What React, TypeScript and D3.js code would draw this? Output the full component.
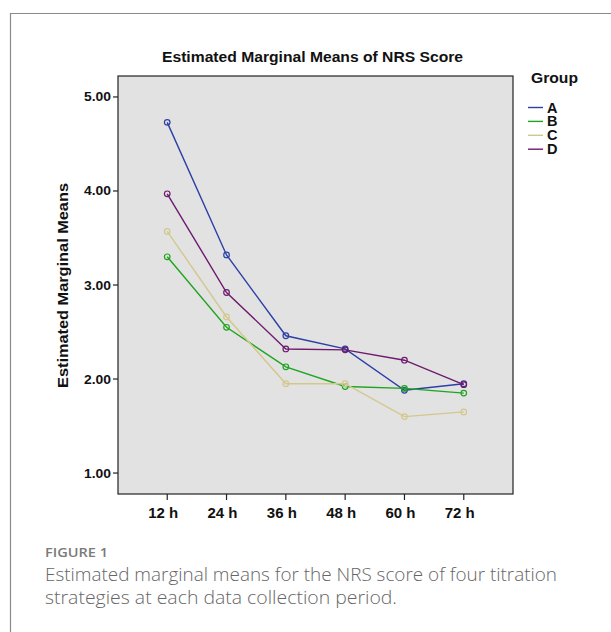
import React from "react";
import * as d3 from "d3";

const times = ["12 h", "24 h", "36 h", "48 h", "60 h", "72 h"];
const groups = ["A", "B", "C", "D"];
const colors = ["#2b3fa6", "#1ea51e", "#d2c88c", "#6e1a6e"];
const seriesA = [4.73, 3.32, 2.46, 2.32, 1.88, 1.95];
const seriesB = [3.3, 2.55, 2.13, 1.92, 1.9, 1.85];
const seriesC = [3.57, 2.66, 1.95, 1.95, 1.6, 1.65];
const seriesD = [3.97, 2.92, 2.32, 2.31, 2.2, 1.94];
const yTicks = [1, 2, 3, 4, 5];
const series = [seriesA, seriesB, seriesC, seriesD];

const W = 611;
const H = 632;
const plot = { left: 118, top: 76, right: 513, bottom: 494 };

export default function App() {
  const x = d3
    .scalePoint<string>()
    .domain(times)
    .range([plot.left, plot.right])
    .padding(0.83);
  const y = d3
    .scaleLinear()
    .domain([0.777, 5.223])
    .range([plot.bottom, plot.top]);
  const line = d3
    .line<number>()
    .x((_, i) => x(times[i]) as number)
    .y((d) => y(d));
  const font = "'Liberation Sans', Arial, sans-serif";
  return (
    <svg
      width={W}
      height={H}
      style={{ position: "absolute", left: 0, top: 0, background: "#fff" }}
    >
      <path d={`M10.5,${H} V13.5 H${W}`} fill="none" stroke="#8a8a8a" strokeWidth={1.2} />
      <text
        x={162}
        y={62}
        fontFamily={font}
        fontWeight="bold"
        fontSize={14.5}
        fill="#111"
        textLength={301}
        lengthAdjust="spacingAndGlyphs"
      >
        Estimated Marginal Means of NRS Score
      </text>
      <rect
        x={plot.left}
        y={plot.top}
        width={plot.right - plot.left}
        height={plot.bottom - plot.top}
        fill="#e2e2e2"
        stroke="#222"
        strokeWidth={1.2}
      />
      {yTicks.map((t) => (
        <g key={t}>
          <line x1={113} x2={plot.left} y1={y(t)} y2={y(t)} stroke="#222" strokeWidth={1.2} />
          <text
            x={111}
            y={y(t) + 4.5}
            textAnchor="end"
            fontFamily={font}
            fontWeight="bold"
            fontSize={13}
            fill="#111"
            textLength={27}
            lengthAdjust="spacingAndGlyphs"
          >
            {t.toFixed(2)}
          </text>
        </g>
      ))}
      {times.map((t) => (
        <g key={t}>
          <line
            x1={x(t)}
            x2={x(t)}
            y1={plot.bottom}
            y2={plot.bottom + 6}
            stroke="#222"
            strokeWidth={1.2}
          />
          <text
            x={(x(t) as number) - 4}
            y={plot.bottom + 24}
            textAnchor="middle"
            fontFamily={font}
            fontWeight="bold"
            fontSize={14}
            fill="#111"
            textLength={30}
            lengthAdjust="spacingAndGlyphs"
          >
            {t}
          </text>
        </g>
      ))}
      <text
        transform={`translate(68,${285.5}) rotate(-90)`}
        textAnchor="middle"
        fontFamily={font}
        fontWeight="bold"
        fontSize={14.5}
        fill="#111"
        textLength={205}
        lengthAdjust="spacingAndGlyphs"
      >
        Estimated Marginal Means
      </text>
      {series.map((s, gi) => (
        <g key={groups[gi]}>
          <path d={line(s) || ""} fill="none" stroke={colors[gi]} strokeWidth={1.4} />
          {s.map((v, i) => (
            <circle
              key={i}
              cx={x(times[i])}
              cy={y(v)}
              r={2.8}
              fill="none"
              stroke={colors[gi]}
              strokeWidth={1.2}
            />
          ))}
        </g>
      ))}
      <text
        x={531}
        y={83}
        fontFamily={font}
        fontWeight="bold"
        fontSize={14.5}
        fill="#111"
        textLength={47}
        lengthAdjust="spacingAndGlyphs"
      >
        Group
      </text>
      {groups.map((g, i) => (
        <g key={g}>
          <line
            x1={528}
            x2={543}
            y1={107.5 + i * 13.9}
            y2={107.5 + i * 13.9}
            stroke={colors[i]}
            strokeWidth={1.4}
          />
          <text
            x={547}
            y={112.5 + i * 13.9}
            fontFamily={font}
            fontWeight="bold"
            fontSize={14.5}
            fill="#111"
          >
            {g}
          </text>
        </g>
      ))}
      <text
        x={45}
        y={557}
        fontFamily="'Open Sans', sans-serif"
        fontWeight={600}
        fontSize={12.5}
        fill="#7a7a7a"
        textLength={63}
        lengthAdjust="spacingAndGlyphs"
      >
        FIGURE 1
      </text>
      <text
        x={45}
        y={580.5}
        fontFamily="'Open Sans', sans-serif"
        fontWeight={300}
        fontSize={17.5}
        fill="#666"
        textLength={512}
        lengthAdjust="spacingAndGlyphs"
      >
        Estimated marginal means for the NRS score of four titration
      </text>
      <text
        x={45}
        y={603.5}
        fontFamily="'Open Sans', sans-serif"
        fontWeight={300}
        fontSize={17.5}
        fill="#666"
        textLength={352}
        lengthAdjust="spacingAndGlyphs"
      >
        strategies at each data collection period.
      </text>
    </svg>
  );
}
